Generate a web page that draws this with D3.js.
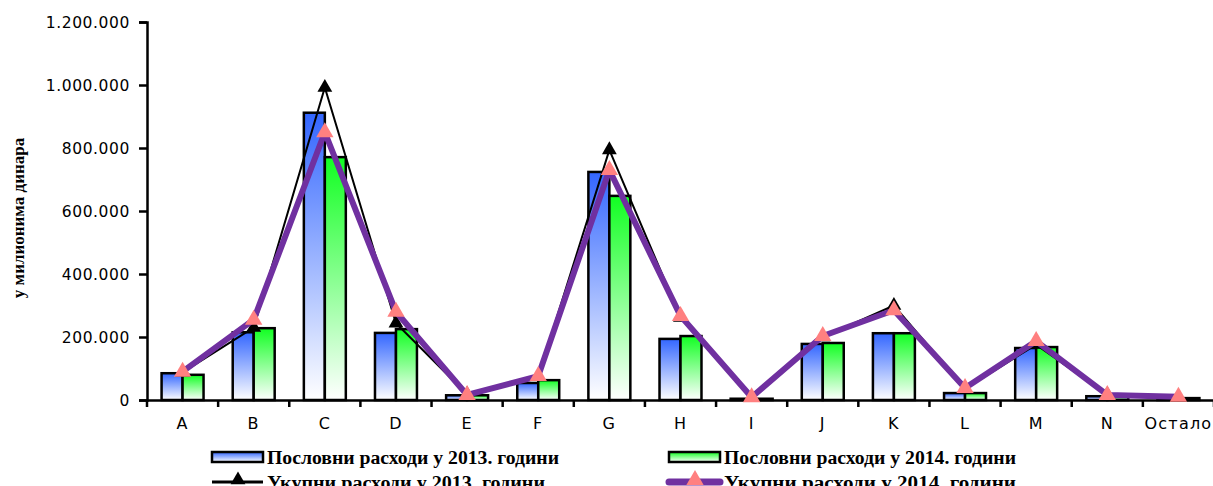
<!DOCTYPE html>
<html>
<head>
<meta charset="utf-8">
<script src="https://cdn.jsdelivr.net/npm/d3@7"></script>
<style>
  html, body { margin: 0; padding: 0; background: #fff; }
  svg { display: block; }
</style>
</head>
<body>
<svg id="chart" width="1213" height="486"></svg>
<script>
const categories = ["A","B","C","D","E","F","G","H","I","J","K","L","M","N","Остало"];
const business2013 = [85000, 215000, 912000, 213000, 15000, 54000, 724000, 194000, 4000, 178000, 212000, 22000, 165000, 12000, 6000];
const business2014 = [80000, 228000, 771000, 225000, 15000, 63000, 648000, 203000, 4000, 181000, 212000, 22000, 168000, 10000, 6000];
const total2013 = [88000, 230000, 992000, 244000, 18000, 74000, 794000, 262000, 7000, 200000, 300000, 35000, 176000, 17000, 9000];
const total2014 = [90000, 255000, 850000, 280000, 16000, 76000, 730000, 267000, 9000, 203000, 285000, 38000, 187000, 16000, 10000];
const yTicks = [0, 200000, 400000, 600000, 800000, 1000000, 1200000];
const seriesNames = ["Пословни расходи у 2013. години", "Пословни расходи у 2014. години",
                     "Укупни расходи у 2013. години", "Укупни расходи у 2014. години"];
const yTitle = "у милионима динара";

const svg = d3.select("#chart");
const mLeft = 147, mRight = 1214, mTop = 22, mBottom = 400;

const x = d3.scaleBand().domain(categories).range([mLeft, mRight]).padding(0);
const y = d3.scaleLinear().domain([0, 1200000]).range([mBottom, mTop]);
const barW = x.bandwidth() * 0.295;

const defs = svg.append("defs");
function grad(id, c) {
  const g = defs.append("linearGradient").attr("id", id).attr("x1", 0).attr("y1", 0).attr("x2", 0).attr("y2", 1);
  g.append("stop").attr("offset", "0%").attr("stop-color", c);
  g.append("stop").attr("offset", "100%").attr("stop-color", "#ffffff");
}
grad("gBlue", "#3366ff");
grad("gGreen", "#11ff22");

const fmt = d3.formatLocale({decimal: ",", thousands: ".", grouping: [3], currency: ["", ""]}).format(",d");

// Y axis
const yAxis = svg.append("g").attr("transform", `translate(${mLeft},0)`)
  .call(d3.axisLeft(y).tickValues(yTicks).tickFormat(fmt).tickSize(8).tickPadding(9));
yAxis.select(".domain").attr("stroke", "#000").attr("stroke-width", 2.5);
yAxis.selectAll(".tick line").attr("stroke", "#000").attr("stroke-width", 2.5);
yAxis.selectAll(".tick text").attr("fill", "#000")
  .style("font-family", "'DejaVu Sans', sans-serif").style("font-size", "15.5px")
  .style("letter-spacing", "0.6px").attr("dy", "0.35em");

// bars
const bars = svg.append("g");
categories.forEach((c, i) => {
  const cx = x(c) + x.bandwidth() / 2;
  bars.append("rect").attr("x", cx - barW).attr("y", y(business2013[i]))
    .attr("width", barW).attr("height", y(0) - y(business2013[i]))
    .attr("fill", "url(#gBlue)").attr("stroke", "#000").attr("stroke-width", 2.5);
  bars.append("rect").attr("x", cx).attr("y", y(business2014[i]))
    .attr("width", barW).attr("height", y(0) - y(business2014[i]))
    .attr("fill", "url(#gGreen)").attr("stroke", "#000").attr("stroke-width", 2.5);
});

// X axis
const xAxis = svg.append("g").attr("transform", `translate(0,${mBottom})`)
  .call(d3.axisBottom(x).tickSize(0).tickPadding(18));
xAxis.select(".domain").attr("stroke", "#000").attr("stroke-width", 2.5);
xAxis.selectAll(".tick text").attr("fill", "#000")
  .style("font-family", "'DejaVu Sans', sans-serif").style("font-size", "16px")
  .style("letter-spacing", "1.2px");
// boundary tick marks
const bounds = categories.map(c => x(c)).concat([mRight]);
svg.append("g").selectAll("line").data(bounds).join("line")
  .attr("x1", d => d).attr("x2", d => d).attr("y1", mBottom).attr("y2", mBottom + 7)
  .attr("stroke", "#000").attr("stroke-width", 2.5);

// lines
const cxOf = (d, i) => x(categories[i]) + x.bandwidth() / 2;
const line = d3.line().x(cxOf).y(d => y(d));
const tri = (s) => d3.symbol().type(d3.symbolTriangle).size(s)();

svg.append("path").datum(total2013).attr("d", line)
  .attr("fill", "none").attr("stroke", "#000").attr("stroke-width", 2);
svg.append("g").selectAll("path").data(total2013).join("path")
  .attr("d", tri(95)).attr("transform", (d, i) => `translate(${cxOf(d, i)},${y(d)})`)
  .attr("fill", "#000");

svg.append("path").datum(total2014).attr("d", line)
  .attr("fill", "none").attr("stroke", "#7030a0").attr("stroke-width", 6).attr("stroke-linejoin", "round");
svg.append("g").selectAll("path").data(total2014).join("path")
  .attr("d", tri(130)).attr("transform", (d, i) => `translate(${cxOf(d, i)},${y(d)})`)
  .attr("fill", "#ff8080");

// Y title
svg.append("text").attr("transform", "translate(24,218) rotate(-90)")
  .attr("text-anchor", "middle")
  .style("font-family", "'Liberation Serif', 'Times New Roman', serif")
  .style("font-size", "17px").style("font-weight", "bold")
  .text(yTitle);

// Legend
const lg = svg.append("g");
const legendFont = (sel) => sel.style("font-family", "'Liberation Serif', 'Times New Roman', serif")
  .style("font-size", "18px").style("font-weight", "bold").attr("fill", "#000");
const cols = [212, 669];
[["url(#gBlue)", 0], ["url(#gGreen)", 1]].forEach(([f, k]) => {
  lg.append("rect").attr("x", cols[k]).attr("y", 452).attr("width", 51).attr("height", 10)
    .attr("fill", f).attr("stroke", "#000").attr("stroke-width", 2.5);
  lg.append("text").attr("x", cols[k] + 55).attr("y", 464).text(seriesNames[k]).call(legendFont)
    .attr("textLength", 292).attr("lengthAdjust", "spacingAndGlyphs");
});
lg.append("line").attr("x1", cols[0]).attr("x2", cols[0] + 51).attr("y1", 482).attr("y2", 482)
  .attr("stroke", "#000").attr("stroke-width", 3);
lg.append("path").attr("d", tri(95)).attr("transform", `translate(${cols[0] + 26},480)`).attr("fill", "#000");
lg.append("text").attr("x", cols[0] + 55).attr("y", 489).text(seriesNames[2]).call(legendFont)
  .attr("textLength", 278).attr("lengthAdjust", "spacingAndGlyphs");
lg.append("line").attr("x1", cols[1]).attr("x2", cols[1] + 51).attr("y1", 482).attr("y2", 482)
  .attr("stroke", "#7030a0").attr("stroke-width", 7).attr("stroke-linecap", "round");
lg.append("path").attr("d", tri(130)).attr("transform", `translate(${cols[1] + 26},480)`).attr("fill", "#ff8080");
lg.append("text").attr("x", cols[1] + 55).attr("y", 489).text(seriesNames[3]).call(legendFont)
  .attr("textLength", 292).attr("lengthAdjust", "spacingAndGlyphs");
</script>
</body>
</html>
